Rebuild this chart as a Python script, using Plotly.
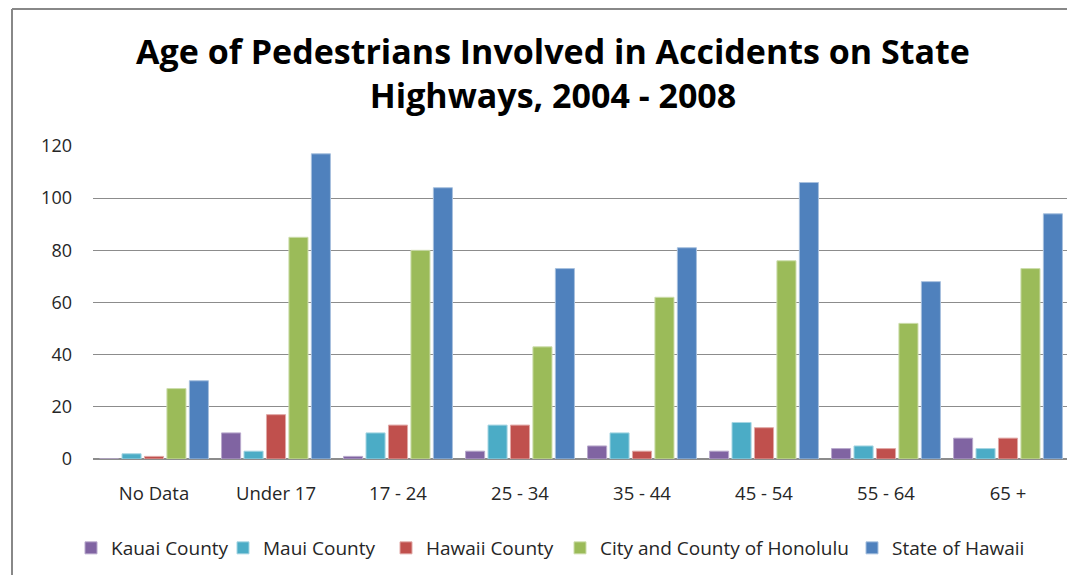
import plotly.graph_objects as go

categories = ["No Data", "Under 17", "17 - 24", "25 - 34", "35 - 44", "45 - 54", "55 - 64", "65 +"]
kauai = [0, 10, 1, 3, 5, 3, 4, 8]
maui = [2, 3, 10, 13, 10, 14, 5, 4]
hawaii_county = [1, 17, 13, 13, 3, 12, 4, 8]
honolulu = [27, 85, 80, 43, 62, 76, 52, 73]
state = [30, 117, 104, 73, 81, 106, 68, 94]

series_names = ["Kauai County", "Maui County", "Hawaii County",
                "City and County of Honolulu", "State of Hawaii"]
series_values = [kauai, maui, hawaii_county, honolulu, state]
colors = ["#8064A2", "#4BACC6", "#C0504D", "#9BBB59", "#4F81BD"]
edge = ["#B8A9CC", "#A5D5E2", "#E0A8A6", "#CDDDAC", "#A7C0DE"]
y_ticks = [0, 20, 40, 60, 80, 100, 120]

FONT = "Open Sans"
TXT = "#262626"

# page is shown with an 8px body offset; layout is in figure pixels
W, H = 1075, 575
L, R, T, B = 85, 14, 138, 124
PW, PH = W - L - R, H - T - B

def px_x(x):
    return (x - L) / PW

def px_y(y):
    return (H - B - y) / PH

legend_names = ["legend", "legend2", "legend3", "legend4", "legend5"]
legend_left = [63, 215, 378, 552, 844]  # figure px of each legend box

fig = go.Figure()
for name, vals, c, e, lg in zip(series_names, series_values, colors, edge, legend_names):
    fig.add_trace(go.Bar(
        x=categories, y=vals, name=name, legend=lg,
        marker=dict(color=c, line=dict(color=e, width=1)),
    ))

legend_common = dict(
    orientation="h", yanchor="middle", xanchor="left",
    font=dict(family=FONT, size=19, color=TXT),
    itemwidth=30, bgcolor="rgba(0,0,0,0)", borderwidth=0,
)
layout_legends = {}
for lg, lx in zip(legend_names, legend_left):
    layout_legends[lg] = dict(legend_common, x=px_x(lx), y=px_y(540))

fig.update_layout(
    width=W, height=H,
    paper_bgcolor="white", plot_bgcolor="white",
    margin=dict(l=L, r=R, t=T, b=B),
    barmode="group", bargap=0.08, bargroupgap=0.15,
    title=dict(
        text="<b>Age of Pedestrians Involved in Accidents on State<br>Highways, 2004 - 2008</b>",
        x=545 / W, xanchor="center", y=1 - 56 / H, yanchor="middle",
        font=dict(family=FONT, size=34, color="#000000"),
    ),
    font=dict(family=FONT, size=18, color=TXT),
    showlegend=True,
    yaxis=dict(
        range=[0, 120], tickvals=y_ticks, showgrid=True,
        gridcolor="#8C8C8C", gridwidth=1,
        zeroline=True, zerolinecolor="#8C8C8C", zerolinewidth=2,
        showline=False, ticks="", ticklabelstandoff=20,
        tickfont=dict(family=FONT, size=18, color=TXT),
    ),
    xaxis=dict(
        showline=False, ticks="", ticklabelstandoff=21,
        tickfont=dict(family=FONT, size=18.5, color=TXT),
    ),
    shapes=[
        dict(type="line", xref="paper", yref="paper",
             x0=px_x(4), x1=px_x(4), y0=px_y(H + 5), y1=px_y(1),
             line=dict(color="#888888", width=2)),
        dict(type="line", xref="paper", yref="paper",
             x0=px_x(4), x1=px_x(W + 5), y0=px_y(1), y1=px_y(1),
             line=dict(color="#888888", width=2)),
    ],
    **layout_legends,
)

fig.write_html("out.html")
